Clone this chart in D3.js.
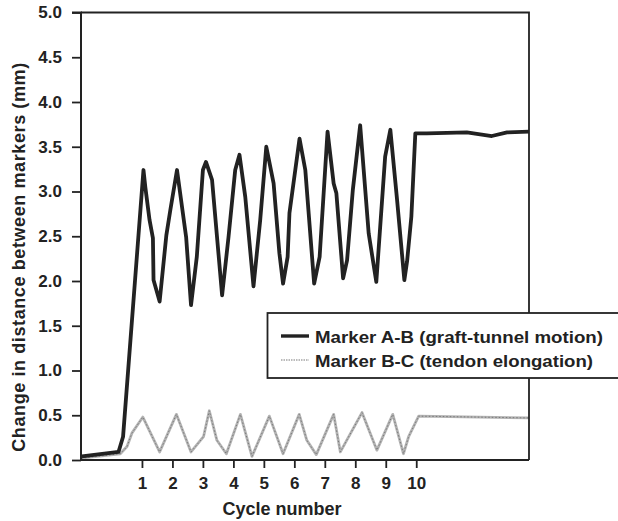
<html>
<head>
    <script src="https://d3js.org/d3.v7.min.js"></script>
    <style>
        body { margin: 0; background: #fff; }
        text { font-family: "Liberation Sans", Arial, sans-serif; font-weight: bold; fill: #222; }
    </style>
</head>
<body>
    <svg id="svg" width="618" height="521"></svg>
    <script>
        // cycle positions / values
        const abCycle = [-0.97, 0.23, 0.38, 1.05, 1.11, 1.25, 1.36, 1.38, 1.58, 1.80, 1.93, 2.15, 2.45, 2.61, 2.80,
            3.00, 3.10, 3.30, 3.63, 3.84, 4.06, 4.20, 4.39, 4.66, 4.88, 5.08, 5.32, 5.51, 5.63, 5.78, 5.84, 6.17,
            6.36, 6.65, 6.83, 7.09, 7.29, 7.38, 7.60, 7.73, 7.92, 8.16, 8.44, 8.69, 8.98, 9.15, 9.37, 9.61, 9.70,
            9.84, 9.97, 10.35, 11.66, 12.48, 12.98, 13.71];
        const abValue = [0.04, 0.09, 0.26, 3.24, 3.05, 2.68, 2.48, 2.01, 1.77, 2.51, 2.79, 3.24, 2.49, 1.73, 2.27,
            3.24, 3.33, 3.13, 1.84, 2.49, 3.24, 3.41, 2.94, 1.94, 2.68, 3.50, 3.09, 2.31, 1.97, 2.27, 2.76, 3.59,
            3.24, 1.97, 2.27, 3.67, 3.09, 2.98, 2.03, 2.23, 3.02, 3.74, 2.53, 1.99, 3.39, 3.69, 2.91, 2.01, 2.22,
            2.72, 3.65, 3.65, 3.66, 3.62, 3.66, 3.67];

        const bcCycle = [-0.99, 0.29, 0.51, 0.67, 1.03, 1.58, 2.13, 2.61, 3.02, 3.21, 3.46, 3.77, 4.23, 4.61, 5.18, 5.63,
            6.16, 6.41, 6.72, 7.29, 7.51, 8.22, 8.71, 9.23, 9.58, 9.75, 10.08, 13.7];
        const bcValue = [0.02, 0.07, 0.15, 0.30, 0.48, 0.09, 0.51, 0.09, 0.26, 0.55, 0.22, 0.07, 0.51, 0.04, 0.49, 0.07,
            0.51, 0.22, 0.06, 0.51, 0.09, 0.53, 0.11, 0.51, 0.07, 0.26, 0.49, 0.47];

        const xTicks = [1, 2, 3, 4, 5, 6, 7, 8, 9, 10];
        const yTicks = [0, 0.5, 1, 1.5, 2, 2.5, 3, 3.5, 4, 4.5, 5];
        const seriesNames = ["Marker A-B (graft-tunnel motion)", "Marker B-C (tendon elongation)"];

        const svg = d3.select("#svg");
        const x = d3.scaleLinear().domain([-1, 13.7]).range([81, 529]);
        const y = d3.scaleLinear().domain([0, 5]).range([460, 12.5]);

        svg.append("defs").append("clipPath").attr("id", "clip")
            .append("rect").attr("x", 81).attr("y", 0).attr("width", 448).attr("height", 460);

        const line = d3.line().x(d => x(d[0])).y(d => y(d[1]));
        const ab = abCycle.map((c, i) => [c, abValue[i]]);
        const bc = bcCycle.map((c, i) => [c, bcValue[i]]);

        const plot = svg.append("g").attr("clip-path", "url(#clip)");
        // gray stippled line
        plot.append("path").datum(bc).attr("d", line)
            .attr("fill", "none").attr("stroke", "#b4b4b4").attr("stroke-width", 2.8)
            .attr("stroke-linejoin", "round");
        plot.append("path").datum(bc).attr("d", line)
            .attr("fill", "none").attr("stroke", "#7a7a7a").attr("stroke-width", 1)
            .attr("stroke-dasharray", "1.5,2");
        plot.append("path").datum(ab).attr("d", line)
            .attr("fill", "none").attr("stroke", "#222").attr("stroke-width", 3.8)
            .attr("stroke-linejoin", "round");

        // frame
        svg.append("path")
            .attr("d", `M${x(-1)},${y(5)}H${x(13.7)}V${y(0)}`)
            .attr("fill", "none").attr("stroke", "#222").attr("stroke-width", 1.8);

        const yAxis = svg.append("g").attr("transform", `translate(${x(-1)},0)`)
            .call(d3.axisLeft(y).tickValues(yTicks).tickFormat(d3.format(".1f")).tickSize(9).tickPadding(10));
        const xAxis = svg.append("g").attr("transform", `translate(0,${y(0)})`)
            .call(d3.axisBottom(x).tickValues(xTicks).tickSize(8).tickPadding(9));
        [yAxis, xAxis].forEach(a => {
            a.select(".domain").attr("stroke", "#222").attr("stroke-width", 2);
            a.selectAll(".tick line").attr("stroke", "#222").attr("stroke-width", 1.8);
            a.selectAll(".tick text").style("font-size", "17px").style("font-family", "'Liberation Sans', Arial, sans-serif")
                .style("font-weight", "bold").attr("fill", "#222");
        });
        yAxis.select(".domain").attr("d", `M-9,${y(5)}H0V${y(0)}`);
        xAxis.select(".domain").attr("d", `M${x(-1)},0H${x(13.7)}`);

        svg.append("text").attr("x", 282).attr("y", 515)
            .attr("text-anchor", "middle").style("font-size", "18px").text("Cycle number");
        svg.append("text").attr("transform", "translate(25,257) rotate(-90)")
            .attr("text-anchor", "middle").style("font-size", "18px").style("letter-spacing", "0.6px")
            .text("Change in distance between markers (mm)");

        // legend
        const legend = svg.append("g");
        legend.append("rect").attr("x", 267.5).attr("y", 313).attr("width", 360).attr("height", 65)
            .attr("fill", "#fff").attr("stroke", "#222").attr("stroke-width", 1.8);
        legend.append("line").attr("x1", 281).attr("x2", 309).attr("y1", 336).attr("y2", 336)
            .attr("stroke", "#222").attr("stroke-width", 3.4);
        legend.append("line").attr("x1", 281).attr("x2", 309).attr("y1", 360).attr("y2", 360)
            .attr("stroke", "#bbb").attr("stroke-width", 2).attr("stroke-dasharray", "1.5,1");
        const legendWidths = [288, 278];
        seriesNames.forEach((s, i) => {
            legend.append("text").attr("x", 315).attr("y", 343 + i * 23.5)
                .attr("textLength", legendWidths[i]).attr("lengthAdjust", "spacingAndGlyphs")
                .style("font-size", "17px").text(s);
        });
    </script>
</body>
</html>
